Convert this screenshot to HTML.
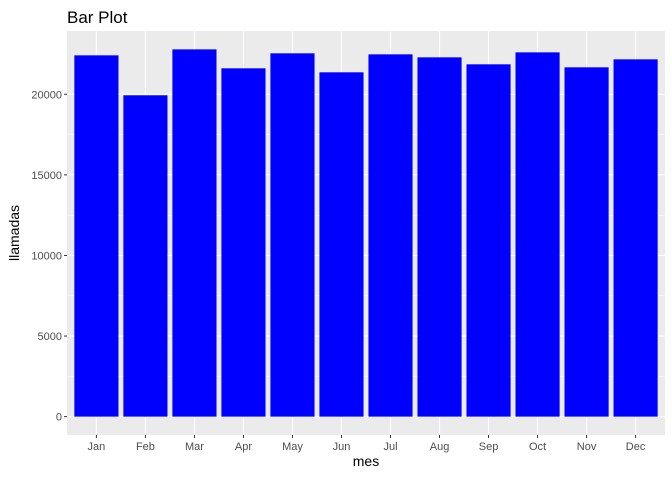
<!DOCTYPE html>
<html><head><meta charset="utf-8"><style>
body{margin:0;background:#fff;font-family:"Liberation Sans",sans-serif}
</style></head><body>
<svg width="672" height="480" xmlns="http://www.w3.org/2000/svg" id="chart" font-family="Liberation Sans, sans-serif">
<text x="67" y="23" font-size="17" fill="#000">Bar Plot</text>
<rect x="67" y="31" width="598" height="404" fill="#ebebeb"/>
<g id="grid"></g><g id="bars"></g><g id="axes"></g>
<text x="366" y="466" font-size="14" text-anchor="middle" fill="#000">mes</text>
<text transform="translate(19,233) rotate(-90)" font-size="14" text-anchor="middle" fill="#000">llamadas</text>
</svg>
<script>
const months=["Jan","Feb","Mar","Apr","May","Jun","Jul","Aug","Sep","Oct","Nov","Dec"];
const llamadas=[22415,19938,22786,21610,22540,21362,22477,22291,21858,22600,21672,22167];
const yTicks=[0,5000,10000,15000,20000];
const ns="http://www.w3.org/2000/svg";
const px0=67,px1=665,py0=435,py1=31;
const ymax=Math.max(...llamadas),ex=ymax*0.05;
const y=v=>py0-(v+ex)/(ymax+2*ex)*(py0-py1);
const step=(px1-px0)/(months.length+0.2);
const x=i=>px0+(0.6+i)*step;
function mk(t,a,p){const e=document.createElementNS(ns,t);for(const k in a)e.setAttribute(k,a[k]);document.getElementById(p).appendChild(e);return e;}
yTicks.forEach((t,i)=>{
 if(i<yTicks.length-1){const m=mk("line",{x1:px0,x2:px1,y1:y(t+2500),y2:y(t+2500),stroke:"#fff","stroke-width":0.5},"grid");
 }
 const g=mk("line",{x1:px0,x2:px1,y1:y(t),y2:y(t),stroke:"#fff","stroke-width":1.1},"grid");
 
 const tk=mk("line",{x1:px0-3,x2:px0,y1:y(t),y2:y(t),stroke:"#333","stroke-width":1},"axes");
 
 const l=mk("text",{x:px0-5,y:y(t)+4,"font-size":11,fill:"#4d4d4d","text-anchor":"end"},"axes");
 l.textContent=t;
});
months.forEach((m,i)=>{
 const g=mk("line",{x1:x(i),x2:x(i),y1:py1,y2:py0,stroke:"#fff","stroke-width":1.1},"grid");
 
 const w=step*0.9;
 const b=mk("rect",{x:x(i)-w/2,y:y(llamadas[i]),width:w,height:y(0)-y(llamadas[i]),fill:"#0000ff"},"bars");
 
 const tk=mk("line",{x1:x(i),x2:x(i),y1:py0,y2:py0+3,stroke:"#333","stroke-width":1},"axes");
 
 const l=mk("text",{x:x(i),y:py0+15,"font-size":11,fill:"#4d4d4d","text-anchor":"middle"},"axes");
 l.textContent=m;
});
</script>
</body></html>
